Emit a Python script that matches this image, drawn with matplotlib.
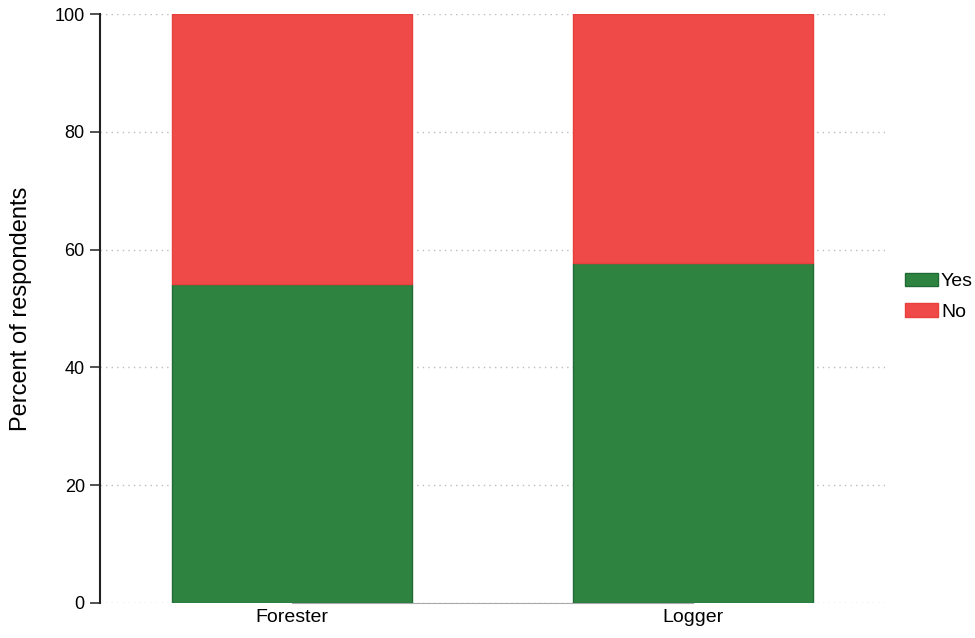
import numpy as np
import matplotlib
matplotlib.use('Agg')
import matplotlib.pyplot as plt

plt.rcParams['font.family'] = ['Liberation Sans', 'DejaVu Sans']

groups = ['Forester', 'Logger']
yes_pct = [54.2, 57.7]
no_pct = [100 - v for v in yes_pct]

green = '#2e8341'
red = '#ef4a47'

fig = plt.figure(figsize=(9.75, 6.38), dpi=100)
ax = fig.add_axes([0.1026, 0.0549, 0.805, 0.923])

x = np.arange(len(groups))
ax.bar(x, yes_pct, width=0.6, color=green, edgecolor='#1f6b33', linewidth=1, zorder=3, label='Yes')
ax.bar(x, no_pct, width=0.6, bottom=yes_pct, color=red, edgecolor='#e8403d', linewidth=1, zorder=3, label='No')

ax.set_xlim(-0.48, 1.48)
ax.set_ylim(0, 100)
ax.set_yticks([0, 20, 40, 60, 80, 100])
ax.set_xticks(x)
ax.set_xticklabels(groups, fontsize=14)
ax.tick_params(axis='y', labelsize=13, length=7, width=1.2, color='#333333', direction='out', pad=4)
ax.tick_params(axis='x', length=0, pad=4)
ax.yaxis.grid(True, linestyle=(0, (1, 3)), color='#bbbbbb', linewidth=1)
ax.set_axisbelow(True)

for s in ['top', 'right']:
    ax.spines[s].set_visible(False)
ax.spines['left'].set_color('#222222')
ax.spines['left'].set_linewidth(1.5)
ax.spines['bottom'].set_color('#aaaaaa')
ax.spines['bottom'].set_bounds(0, 1)

ax.set_ylabel('Percent of respondents', fontsize=17, labelpad=16)

ax.legend(loc='center left', bbox_to_anchor=(1.0255, 0.52), frameon=False, fontsize=14,
          borderaxespad=0, borderpad=0,
          handlelength=1.7, handleheight=0.7, handletextpad=0.15, labelspacing=0.65)

fig.savefig('out.png', dpi=100)
